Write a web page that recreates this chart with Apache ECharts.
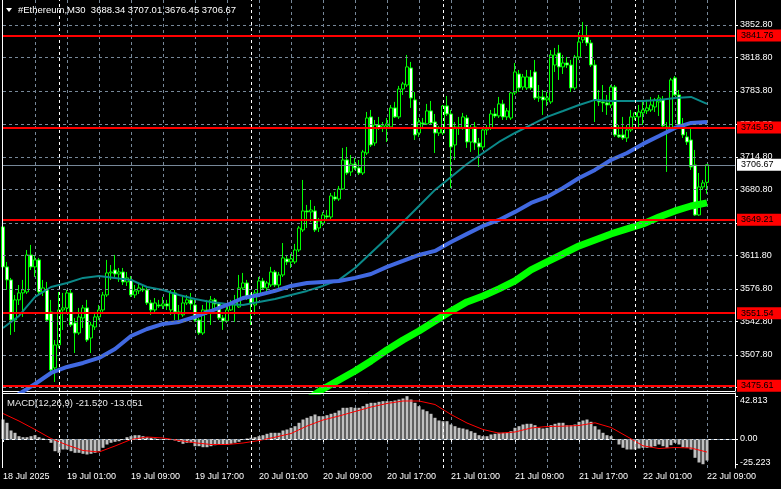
<!DOCTYPE html>
<html><head><meta charset="utf-8">
<script src="https://cdn.jsdelivr.net/npm/echarts@6/dist/echarts.min.js"></script>
<style>html,body{margin:0;padding:0;background:#000;}#c{width:781px;height:489px;}</style>
</head><body><div id="c"></div>
<script>
// ---------------- DATA ----------------
const symbolTitle = '#Ethereum,M30';
const xTickLabels = ['18 Jul 2025','19 Jul 01:00','19 Jul 09:00','19 Jul 17:00','20 Jul 01:00','20 Jul 09:00','20 Jul 17:00','21 Jul 01:00','21 Jul 09:00','21 Jul 17:00','22 Jul 01:00','22 Jul 09:00'];
const daySeparators = [14, 62, 110, 158];
const priceTicks = [3852.8, 3818.8, 3783.8, 3748.8, 3714.8, 3680.8, 3645.8, 3611.8, 3576.8, 3542.8, 3507.8, 3473.8];
const levelLines = [3841.76, 3745.59, 3649.21, 3551.54, 3475.61];
const macdTicks = [42.813, 0, -25.223];
const macdTickLabels = ['42.813', '0.00', '-25.223'];
const macdLast = [-21.520, -13.051];

const opens = [3641.7,3599.9,3586.3,3544.4,3565.4,3572.7,3573.7,3612.4,3599.9,3607.2,3573.7,3575.8,3552.8,3494.3,3518.3,3554.9,3557.0,3572.7,3541.3,3530.8,3546.5,3557.0,3525.6,3537.1,3547.6,3554.9,3570.6,3593.6,3596.7,3592.5,3594.6,3584.2,3586.3,3570.6,3574.8,3576.8,3575.8,3562.2,3554.9,3560.1,3559.1,3561.2,3554.9,3572.7,3552.8,3549.7,3562.2,3565.4,3560.1,3544.4,3530.8,3554.9,3553.8,3565.4,3561.2,3546.5,3543.4,3554.9,3560.1,3558.0,3577.9,3583.1,3568.5,3560.1,3570.6,3585.2,3577.9,3581.0,3594.6,3581.0,3591.5,3608.2,3605.1,3605.1,3617.6,3638.5,3658.4,3657.4,3658.4,3640.6,3645.8,3653.2,3652.1,3673.0,3670.9,3681.4,3711.7,3699.2,3707.5,3703.4,3698.1,3719.0,3756.7,3729.5,3748.3,3745.2,3747.3,3746.2,3766.1,3756.7,3785.9,3790.1,3807.9,3774.5,3739.9,3750.4,3749.4,3763.0,3751.4,3739.9,3739.9,3768.2,3759.8,3727.4,3746.2,3745.2,3755.6,3730.5,3746.2,3729.5,3725.3,3743.1,3745.2,3759.8,3757.7,3770.3,3756.7,3755.6,3781.8,3801.6,3788.0,3787.0,3798.5,3803.7,3776.5,3777.6,3774.5,3772.4,3811.0,3823.6,3809.0,3813.1,3811.0,3787.0,3819.4,3837.2,3840.3,3834.0,3811.0,3774.5,3772.4,3771.3,3769.2,3788.0,3737.9,3737.9,3734.7,3743.1,3756.7,3756.7,3760.9,3763.0,3764.0,3767.1,3772.4,3774.5,3746.2,3745.2,3797.5,3779.7,3748.3,3735.8,3732.6,3706.5,3654.2,3683.5,3688.34];
const highs = [3672.0,3605.1,3588.4,3570.6,3581.0,3586.3,3617.6,3622.9,3612.4,3609.3,3586.3,3584.2,3565.4,3523.5,3573.7,3572.7,3575.8,3575.8,3546.5,3557.0,3560.1,3565.4,3542.4,3552.8,3560.1,3573.7,3607.2,3601.9,3612.4,3598.8,3598.8,3594.6,3590.4,3581.0,3583.1,3581.0,3577.9,3565.4,3567.4,3565.4,3568.5,3565.4,3575.8,3575.8,3560.1,3569.5,3570.6,3572.7,3565.4,3546.5,3560.1,3565.4,3569.5,3567.4,3563.3,3549.7,3560.1,3565.4,3570.6,3591.5,3593.6,3586.3,3572.7,3575.8,3589.4,3588.4,3585.2,3599.9,3596.7,3594.6,3624.9,3612.4,3613.4,3623.9,3642.7,3690.8,3664.7,3669.9,3663.6,3651.1,3657.4,3659.4,3677.2,3678.3,3684.5,3724.3,3725.3,3716.9,3713.8,3711.7,3722.2,3761.9,3764.0,3753.5,3756.7,3751.4,3755.6,3769.2,3772.4,3789.1,3793.3,3821.5,3814.2,3782.8,3755.6,3755.6,3770.3,3773.4,3759.8,3747.3,3769.2,3778.6,3764.0,3751.4,3756.7,3760.9,3758.8,3748.3,3751.4,3734.7,3746.2,3748.3,3764.0,3766.1,3777.6,3774.5,3766.1,3782.8,3813.1,3805.8,3801.6,3805.8,3805.8,3816.3,3790.1,3784.9,3782.8,3826.7,3828.8,3832.0,3821.5,3819.4,3816.3,3821.5,3845.5,3856.0,3852.9,3837.2,3816.3,3784.9,3790.1,3779.7,3790.1,3790.1,3748.3,3756.7,3748.3,3764.0,3761.9,3769.2,3774.5,3774.5,3777.6,3776.5,3779.7,3778.6,3751.4,3797.5,3799.5,3784.9,3755.6,3741.0,3745.2,3722.2,3698.1,3690.8,3707.01];
const lows = [3584.2,3575.8,3528.8,3531.9,3560.1,3547.6,3571.6,3596.7,3589.4,3570.6,3569.5,3542.4,3490.1,3479.6,3515.2,3534.0,3552.8,3537.1,3509.9,3528.8,3536.1,3521.4,3509.9,3534.0,3544.4,3552.8,3568.5,3586.3,3588.4,3584.2,3581.0,3580.0,3568.5,3567.4,3571.6,3573.7,3560.1,3549.7,3552.8,3557.0,3555.9,3554.9,3549.7,3544.4,3544.4,3547.6,3560.1,3554.9,3542.4,3528.8,3528.8,3549.7,3539.2,3557.0,3544.4,3534.0,3541.3,3553.8,3542.4,3557.0,3575.8,3565.4,3539.2,3549.7,3568.5,3575.8,3573.7,3578.9,3578.9,3577.9,3589.4,3601.9,3598.8,3603.0,3615.5,3636.4,3640.6,3646.9,3636.4,3636.4,3642.7,3650.0,3650.0,3668.9,3668.9,3680.4,3696.0,3695.0,3701.3,3696.0,3696.0,3716.9,3725.3,3726.4,3743.1,3741.0,3730.5,3744.1,3755.6,3754.6,3779.7,3788.0,3766.1,3732.6,3735.8,3745.2,3748.3,3748.3,3719.0,3736.8,3737.9,3757.7,3682.4,3711.7,3737.9,3743.1,3724.3,3720.1,3722.2,3704.4,3722.2,3737.9,3743.1,3755.6,3755.6,3753.5,3753.5,3753.5,3779.7,3782.8,3784.9,3784.9,3784.9,3774.5,3772.4,3758.8,3768.2,3770.3,3803.7,3795.4,3801.6,3807.9,3782.8,3784.9,3816.3,3834.0,3830.9,3809.0,3751.4,3768.2,3761.9,3758.8,3766.1,3735.8,3734.7,3732.6,3730.5,3741.0,3753.5,3745.2,3748.3,3759.8,3761.9,3761.9,3757.7,3746.2,3699.2,3743.1,3778.6,3745.2,3734.7,3727.4,3701.3,3653.2,3653.2,3680.4,3676.45];
const closes = [3599.9,3586.3,3544.4,3565.4,3572.7,3575.8,3612.4,3599.9,3607.2,3573.7,3577.9,3544.4,3492.2,3518.3,3554.9,3557.0,3572.7,3539.2,3530.8,3547.6,3557.0,3523.5,3539.2,3547.6,3554.9,3570.6,3593.6,3594.6,3592.5,3594.6,3584.2,3588.4,3570.6,3574.8,3577.9,3575.8,3562.2,3554.9,3562.2,3559.1,3561.2,3559.1,3572.7,3552.8,3550.7,3562.2,3565.4,3561.2,3544.4,3530.8,3554.9,3553.8,3565.4,3561.2,3546.5,3543.4,3554.9,3560.1,3563.3,3577.9,3583.1,3568.5,3562.2,3572.7,3585.2,3577.9,3583.1,3594.6,3581.0,3591.5,3609.3,3605.1,3608.2,3617.6,3640.6,3658.4,3657.4,3659.4,3638.5,3648.0,3654.2,3652.1,3674.1,3670.9,3681.4,3711.7,3698.1,3707.5,3703.4,3698.1,3720.1,3755.6,3727.4,3748.3,3745.2,3747.3,3749.4,3766.1,3756.7,3785.9,3791.2,3809.0,3776.5,3737.9,3751.4,3749.4,3763.0,3750.4,3739.9,3745.2,3768.2,3759.8,3725.3,3746.2,3745.2,3756.7,3730.5,3745.2,3729.5,3725.3,3743.1,3745.2,3759.8,3757.7,3770.3,3756.7,3763.0,3781.8,3803.7,3787.0,3798.5,3798.5,3787.0,3776.5,3777.6,3774.5,3776.5,3821.5,3821.5,3809.0,3813.1,3811.0,3787.0,3819.4,3835.1,3840.3,3834.0,3811.0,3774.5,3772.4,3771.3,3769.2,3788.0,3737.9,3735.8,3734.7,3743.1,3756.7,3760.9,3761.9,3764.0,3766.1,3769.2,3774.5,3776.5,3747.3,3745.2,3795.4,3779.7,3748.3,3737.9,3730.5,3704.4,3654.2,3683.5,3687.7,3706.67];

// moving averages, read every 4th bar
const maStep = 4;
const maTealStart = 0;
const maTeal = [3536.1,3548.6,3568.5,3578.9,3583.1,3588.4,3590.4,3588.4,3586.3,3578.9,3575.8,3570.6,3566.4,3563.3,3561.2,3560.1,3563.3,3566.4,3570.6,3574.8,3580.0,3586.3,3598.8,3614.5,3630.2,3646.9,3663.6,3680.4,3693.9,3707.5,3719.0,3730.5,3739.9,3748.3,3756.7,3762.9,3769.2,3774.5,3773.4,3773.4,3773.4,3774.5,3776.5,3777.6,3770.3];
const maBlueStart = 0;
const maBlue = [3455.6,3467.1,3477.5,3489.0,3495.3,3499.5,3504.7,3514.1,3527.7,3535.0,3540.3,3542.4,3547.6,3553.8,3560.1,3567.4,3570.6,3574.8,3580.0,3583.1,3584.2,3585.2,3588.4,3592.5,3599.9,3606.1,3612.4,3616.6,3626.0,3634.4,3642.7,3649.0,3657.4,3666.8,3673.0,3682.4,3692.9,3701.3,3711.7,3719.0,3728.5,3736.8,3745.2,3750.4,3751.5];
const maGreenStart = 76;
const maGreen = [3460.8,3472.3,3481.7,3491.1,3501.6,3513.1,3523.5,3532.9,3543.4,3553.8,3563.3,3569.5,3576.9,3585.2,3596.7,3605.1,3613.4,3621.8,3628.1,3634.4,3639.6,3644.8,3652.1,3658.4,3663.6,3666.8];

const macdHist = [19.5,16.2,8.5,6.2,2.8,1.8,1.8,2.8,3.8,1.8,0.5,-0.5,-3.8,-12.2,-13.8,-10.5,-10.5,-12.2,-13.8,-13.8,-14.8,-15.5,-14.8,-13.8,-12.2,-8.8,-5.5,-3.8,-2.8,-2.2,-0.5,1.8,2.8,3.8,3.8,2.8,1.8,1.2,0.5,-0.5,-0.5,-0.8,-0.5,-1.5,-2.8,-4.8,-3.8,-3.8,-7.2,-7.2,-8.2,-8.2,-7.2,-6.2,-5.5,-5.5,-5.5,-4.8,-3.8,-2.8,-0.5,0.5,1.2,1.8,2.8,3.8,5.2,6.2,6.2,6.2,8.5,9.5,11.2,12.8,16.2,19.5,21.2,22.8,24.5,22.8,22.8,23.8,25.2,26.2,28.5,31.2,31.2,31.8,31.2,31.2,32.8,35.2,36.2,36.2,37.2,37.8,37.8,37.8,38.5,39.5,40.5,42.813,39.5,36.2,32.8,29.5,27.8,25.2,21.2,18.5,17.8,17.8,14.5,12.8,11.2,10.5,9.5,7.8,6.2,3.8,2.8,2.8,4.5,5.2,6.2,6.2,6.2,7.8,11.2,12.8,14.5,15.2,15.2,13.8,11.2,10.5,11.2,13.8,15.2,16.2,16.2,13.8,13.8,14.5,17.2,18.5,19.5,17.2,12.8,9.5,6.2,3.8,2.8,-0.5,-5.5,-8.8,-10.5,-10.5,-10.5,-9.5,-8.8,-8.8,-8.2,-7.2,-5.5,-7.2,-8.8,-6.2,-3.8,-5.5,-8.2,-8.8,-10.5,-18.8,-23.5,-25.223,-21.52];
// signal line, read every 4th bar
const macdSignal = [25.5,18,9.5,0.5,-6,-11.5,-13,-7,-0.5,2,1,-1.5,-3.8,-5.5,-5.5,-4,-1.5,1.8,5.5,13,19,23,27.5,32,35.5,38,38,34.5,24.5,16,9.5,5.8,7,11,12.5,12.8,13.5,16.2,11.5,2.5,-6.8,-9.5,-8.5,-9,-13.05];

// ---------------- BUILD ----------------
const N = 184; // category slots incl. right shift
const cats = Array.from({length: N}, (_, i) => String(i));
const FONT = 'Liberation Sans';
const GRIDC = '#778899';

function expand(samples, start, step) {
  const a = new Array(N).fill(null);
  samples.forEach((v, k) => { a[start + k * step] = v; });
  return a;
}
const candles = opens.map((o, i) => [o, closes[i], lows[i], highs[i]]);
const nulls = new Array(N).fill(null);
const last = opens.length - 1;

const mainMin = 3470.16, mainMax = 3878.94;
const macdMin = -29, macdMax = 46;

const chart = echarts.init(document.getElementById('c'), null, {renderer: 'canvas'});
const axisText = {color: '#ffffff', fontSize: 9, fontFamily: FONT};
const sepMarks = daySeparators.map(i => ({xAxis: String(i)}));

chart.setOption({
  backgroundColor: '#000000',
  animation: false,
  grid: [
    {left: 3, top: 0, width: 732, height: 391, outerBoundsMode: 'none', containLabel: false},
    {left: 3, top: 393, width: 732, height: 75, outerBoundsMode: 'none', containLabel: false}
  ],
  xAxis: [
    {type: 'category', gridIndex: 0, data: cats, boundaryGap: false, position: 'bottom',
     axisLine: {show: true, lineStyle: {color: '#ffffff', width: 1}}, axisTick: {show: false}, axisLabel: {show: false},
     splitLine: {show: true, interval: (i) => i > 0 && i % 8 === 0, lineStyle: {color: GRIDC, type: [3, 3], width: 1}}},
    {type: 'category', gridIndex: 1, data: cats, boundaryGap: false, position: 'bottom',
     axisLine: {show: true, lineStyle: {color: '#ffffff', width: 1}},
     axisTick: {show: true, interval: 15, length: 3, lineStyle: {color: '#ffffff'}},
     axisLabel: Object.assign({show: true, interval: 15, align: 'left', margin: 4,
       formatter: (v, i) => (i % 16 === 0 && xTickLabels[i / 16]) ? xTickLabels[i / 16] : ''}, axisText),
     splitLine: {show: true, interval: (i) => i > 0 && i % 8 === 0, lineStyle: {color: GRIDC, type: [3, 3], width: 1}}}
  ],
  yAxis: [
    {type: 'value', gridIndex: 0, position: 'right', min: mainMin, max: mainMax, scale: true,
     splitLine: {show: false},
     axisLine: {show: true, lineStyle: {color: '#ffffff', width: 1}},
     axisTick: {show: true, customValues: priceTicks, length: 3, lineStyle: {color: '#ffffff'}},
     axisLabel: Object.assign({show: true, customValues: priceTicks, margin: 5, formatter: (v) => v.toFixed(2)}, axisText)},
    {type: 'value', gridIndex: 1, position: 'right', min: macdMin, max: macdMax,
     splitLine: {show: false},
     axisLine: {show: true, lineStyle: {color: '#ffffff', width: 1}},
     axisTick: {show: true, customValues: macdTicks, length: 3, lineStyle: {color: '#ffffff'}},
     axisLabel: Object.assign({show: true, customValues: macdTicks, margin: 5,
       formatter: (v) => {
         let k = 0; macdTicks.forEach((t, j) => { if (Math.abs(t - v) < Math.abs(macdTicks[k] - v)) k = j; });
         const tag = k === 0 ? 't' : (k === macdTicks.length - 1 ? 'b' : 'm');
         return '{' + tag + '|' + macdTickLabels[k] + '}';
       },
       rich: {
         t: {padding: [8, 0, 0, 0], color: '#fff', fontSize: 9, fontFamily: FONT},
         m: {color: '#fff', fontSize: 9, fontFamily: FONT},
         b: {padding: [0, 0, 3, 0], color: '#fff', fontSize: 9, fontFamily: FONT}
       }}, axisText)}
  ],
  series: [
    // horizontal price grid + day separators
    {type: 'line', xAxisIndex: 0, yAxisIndex: 0, data: nulls, z: 1, silent: true, symbol: 'none',
     markLine: {silent: true, symbol: 'none', animation: false, label: {show: false},
       lineStyle: {color: GRIDC, type: [3, 3], width: 1},
       data: priceTicks.map(v => ({yAxis: v}))}},
    {type: 'line', xAxisIndex: 0, yAxisIndex: 0, data: nulls, z: 1, silent: true, symbol: 'none',
     markLine: {silent: true, symbol: 'none', animation: false, label: {show: false},
       lineStyle: {color: '#ffffff', type: [3, 3], width: 1}, data: sepMarks}},
    {type: 'candlestick', xAxisIndex: 0, yAxisIndex: 0, data: candles, z: 2, barWidth: 3, clip: false,
     itemStyle: {color: '#000000', color0: '#ffffff', borderColor: '#00ff00', borderColor0: '#00ff00', borderWidth: 1}},
    {type: 'line', xAxisIndex: 0, yAxisIndex: 0, data: expand(maTeal, maTealStart, maStep), connectNulls: true,
     symbol: 'none', z: 3, lineStyle: {color: '#0b8a8a', width: 2}},
    {type: 'line', xAxisIndex: 0, yAxisIndex: 0, data: expand(maBlue, maBlueStart, maStep), connectNulls: true,
     symbol: 'none', z: 3, lineStyle: {color: '#4169e1', width: 4}},
    {type: 'line', xAxisIndex: 0, yAxisIndex: 0, data: expand(maGreen, maGreenStart, maStep), connectNulls: true,
     symbol: 'none', z: 3, lineStyle: {color: '#00ff00', width: 7}},
    // current price line
    {type: 'line', xAxisIndex: 0, yAxisIndex: 0, data: nulls, z: 4, silent: true, symbol: 'none',
     markLine: {silent: true, symbol: 'none', animation: false,
       lineStyle: {color: GRIDC, type: 'solid', width: 1},
       label: {show: true, position: 'end', distance: 2, formatter: (p) => p.value.toFixed(2),
         color: '#000000', backgroundColor: '#ffffff', padding: [2, 8, 1, 4], fontSize: 9, fontFamily: FONT},
       data: [{yAxis: closes[last]}]}},
    // red levels
    {type: 'line', xAxisIndex: 0, yAxisIndex: 0, data: nulls, z: 5, silent: true, symbol: 'none',
     markLine: {silent: true, symbol: 'none', animation: false,
       lineStyle: {color: '#ff0000', type: 'solid', width: 2},
       label: {show: true, position: 'end', distance: 2, formatter: (p) => p.value.toFixed(2),
         color: '#000000', backgroundColor: '#ff0000', padding: [2, 8, 1, 4], fontSize: 9, fontFamily: FONT},
       data: levelLines.map(v => ({yAxis: v}))}},
    // MACD
    {type: 'line', xAxisIndex: 1, yAxisIndex: 1, data: nulls, z: 1, silent: true, symbol: 'none',
     markLine: {silent: true, symbol: 'none', animation: false, label: {show: false},
       lineStyle: {color: GRIDC, type: [3, 3], width: 1}, data: [{yAxis: 0}]}},
    {type: 'line', xAxisIndex: 1, yAxisIndex: 1, data: nulls, z: 1, silent: true, symbol: 'none',
     markLine: {silent: true, symbol: 'none', animation: false, label: {show: false},
       lineStyle: {color: '#ffffff', type: [3, 3], width: 1}, data: sepMarks}},
    {type: 'bar', xAxisIndex: 1, yAxisIndex: 1, data: macdHist, barWidth: 3, z: 2, clip: false,
     itemStyle: {color: '#c0c0c0'}},
    {type: 'line', xAxisIndex: 1, yAxisIndex: 1, data: expand(macdSignal, 0, maStep), connectNulls: true,
     symbol: 'none', z: 3, lineStyle: {color: '#ff0000', width: 1}}
  ],
  graphic: [
    {type: 'line', shape: {x1: 2.5, y1: 0, x2: 2.5, y2: 468}, style: {stroke: '#ffffff', lineWidth: 1}, z: 100},
    {type: 'line', shape: {x1: 2.5, y1: 393.5, x2: 735, y2: 393.5}, style: {stroke: '#ffffff', lineWidth: 1}, z: 100},
    {type: 'polygon', shape: {points: [[6, 8], [12, 8], [9, 12]]}, style: {fill: '#ffffff'}, z: 100},
    {type: 'text', left: 18, top: 5, z: 100,
     style: {text: symbolTitle + '  ' + [opens[last], highs[last], lows[last], closes[last]].map(v => v.toFixed(2)).join(' '),
       fill: '#ffffff', font: '9.5px "' + FONT + '"'}},
    {type: 'text', left: 7, top: 398, z: 100,
     style: {text: 'MACD(12,26,9) ' + macdLast.map(v => v.toFixed(3)).join(' '), fill: '#e8e8e8', font: '9.5px "' + FONT + '"'}}
  ]
});
</script>
</body></html>
